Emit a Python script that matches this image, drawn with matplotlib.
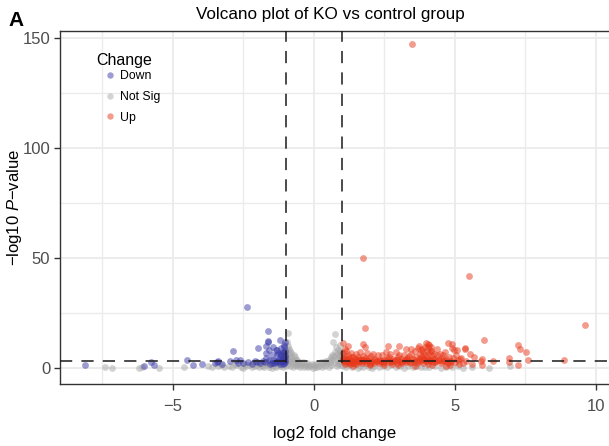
import matplotlib
matplotlib.use("Agg")
import matplotlib.pyplot as plt
from matplotlib.lines import Line2D
from matplotlib.ticker import MultipleLocator

plt.rcParams['font.family'] = ['Liberation Sans', 'DejaVu Sans']
plt.rcParams['mathtext.fontset'] = 'custom'
plt.rcParams['mathtext.rm'] = 'Liberation Sans'
plt.rcParams['mathtext.it'] = 'Liberation Sans:italic'

# ---------------- data ----------------
down_lfc = [-8.12, -6.03, -5.79, -5.66, -4.51, -4.28, -3.98, -3.45,
            -2.37, -1.62, -1.61, -1.21, -1.03, -1.98, -1.68, -1.59, -1.35, -1.15,
            -1.09, -1.30, -1.50, -2.88, -1.68, -2.77, -2.62, -2.98, -3.39, -3.51,
            -3.27, -2.09, -2.03, -1.44, -1.27, -1.09, -1.15, -1.03, -1.74, -2.51,
            -1.68, -1.44, -1.32, -1.11, -1.06, -1.15, -1.62,
            -1.90, -1.80, -1.55, -1.40, -1.20, -1.05, -1.10, -1.25, -1.35, -1.60,
            -2.20, -2.35, -2.70, -1.02, -1.08, -1.18, -1.03, -1.05, -1.28,
            -1.04, -1.12, -1.22, -1.38, -1.48, -1.04, -1.14]
down_logp = [1.4, 0.9, 2.9, 1.7, 3.6, 1.4, 1.8, 2.9,
             27.8, 16.8, 12.4, 12.7, 11.9, 9.2, 10.0, 8.2, 8.5, 9.4,
             6.9, 5.9, 5.9, 7.7, 4.7, 3.6, 3.9, 3.3, 3.2, 2.4,
             2.1, 3.3, 2.9, 3.6, 3.3, 3.3, 4.4, 5.1, 2.9, 2.4,
             6.9, 9.7, 8.2, 7.4, 9.7, 5.9, 12.0,
             2.2, 3.4, 2.0, 2.6, 2.1, 2.4, 1.8, 4.2, 3.0, 3.8,
             2.0, 2.7, 2.2, 3.8, 4.9, 6.4, 7.8, 10.5, 7.0,
             3.0, 3.5, 2.8, 3.1, 2.5, 6.0, 4.0]

ns_lfc = [-7.41, -7.17, -6.19, -6.10, -5.50, -4.61, -3.75,
          -3.60, -3.40, -3.20, -3.00, -2.90, -2.75, -2.60, -2.50, -2.40, -2.30,
          -2.20, -2.10, -2.00, -1.95, -1.90, -1.85, -1.80, -1.75, -1.70, -1.65,
          -1.60, -1.55, -1.50, -1.45, -1.40, -1.35, -1.30, -1.25, -1.20, -1.15,
          -1.10, -1.05, -1.00,
          -0.98, -0.96, -0.95, -0.93, -0.91, -0.92, -0.90, -0.88, -0.87, -0.86,
          -0.84, -0.82, -0.80, -0.78, -0.76, -0.74, -0.72, -0.70, -0.68, -0.66,
          -0.64, -0.62, -0.60, -0.58, -0.55, -0.52, -0.50, -0.47, -0.44, -0.40,
          -0.36, -0.32, -0.28, -0.24, -0.20, -0.16, -0.12, -0.08, -0.04, 0.00,
          0.04, 0.08, 0.12, 0.16, 0.20, 0.24, 0.28, 0.32, 0.36, 0.40,
          0.44, 0.48, 0.52, 0.55, 0.58, 0.60, 0.62, 0.64, 0.66, 0.68,
          0.70, 0.72, 0.74, 0.75, 0.77, 0.80, 0.81, 0.83, 0.85, 0.86,
          0.88, 0.90, 0.92, 0.94, 0.96, 0.98, 0.99,
          1.05, 1.15, 1.25, 1.35, 1.45, 1.55, 1.65, 1.75, 1.85, 1.95,
          2.05, 2.15, 2.30, 2.45, 2.60, 2.75, 2.90, 3.05, 3.20, 3.35,
          3.50, 3.65, 3.80, 3.95, 4.10, 4.30, 4.50, 4.70, 4.90, 5.10,
          5.30, 5.60, 6.22, 6.95,
          -3.3, -2.8, -2.45, -2.15, -1.88, -1.62, -1.38, -1.12,
          -0.99, -0.94, -0.89, -0.83, 0.85, 0.91, 0.95, 0.97]
ns_logp = [0.6, 0.3, 0.3, 0.4, 0.15, 0.6, 0.9,
           0.5, 0.9, 0.4, 1.1, 0.6, 1.4, 0.8, 0.3, 1.2, 1.7,
           0.6, 1.0, 1.5, 0.4, 2.0, 0.9, 1.3, 0.5, 1.8, 2.3,
           0.8, 1.5, 0.3, 2.1, 1.1, 0.6, 1.7, 2.6, 0.9, 1.4,
           0.4, 2.0, 1.2,
           3.3, 5.5, 7.8, 10.3, 16.2, 2.1, 4.4, 6.5, 8.9, 1.0,
           3.1, 5.6, 7.1, 2.3, 4.2, 0.6, 6.0, 3.3, 1.5, 5.0,
           2.6, 4.0, 0.9, 3.6, 1.9, 3.0, 0.5, 2.4, 1.3, 2.8,
           0.7, 2.0, 1.2, 2.4, 0.4, 1.6, 0.9, 2.0, 0.3, 1.4,
           0.7, 1.9, 0.5, 2.2, 1.0, 2.7, 0.4, 1.8, 3.0, 1.1,
           3.4, 2.2, 4.0, 0.8, 3.0, 5.0, 1.6, 4.3, 6.2, 11.9,
           2.5, 5.5, 15.7, 7.4, 3.6, 9.7, 1.2, 6.5, 4.6, 8.3,
           2.4, 5.8, 10.5, 3.5, 7.2, 1.6, 4.8,
           0.9, 0.4, 1.3, 0.7, 1.8, 0.3, 1.1, 0.6, 1.5, 0.8,
           0.2, 1.2, 0.6, 1.0, 0.4, 1.3, 0.7, 1.1, 0.3, 0.9,
           0.6, 1.0, 0.4, 0.8, 0.5, 1.0, 0.3, 0.7, 0.4, 0.9,
           0.3, 0.5, 0.0, 0.9,
           1.6, 2.0, 1.9, 2.3, 2.6, 2.8, 2.4, 2.9,
           9.0, 12.0, 3.8, 8.0, 2.0, 7.8, 3.9, 6.0]

up_lfc = [3.48, 1.74, 5.50, 9.63, 1.81, 6.03, 7.25, 7.30, 7.52, 1.04,
          1.75, 1.81, 2.63, 3.01, 3.26, 3.46, 4.05, 4.74, 4.90, 4.96,
          5.35, 5.53, 5.67, 5.95, 5.95, 6.36, 6.93, 6.93, 7.25, 7.60,
          8.87, 5.35, 5.18, 5.91, 5.59, 5.41, 4.82, 4.17, 4.09, 5.06,
          1.02, 1.05, 1.08, 1.10, 1.12, 1.15, 1.18, 1.20, 1.22, 1.25,
          1.28, 1.30, 1.33, 1.36, 1.38, 1.42, 1.45, 1.48, 1.50, 1.53,
          1.56, 1.60, 1.62, 1.65, 1.68, 1.72, 1.75, 1.78, 1.82, 1.85,
          1.88, 1.92, 1.95, 1.98, 2.02, 2.06, 2.10, 2.14, 2.18, 2.22,
          2.26, 2.30,
          2.34, 2.38, 2.42, 2.46, 2.50, 2.55, 2.58, 2.62, 2.66, 2.70,
          2.74, 2.78, 2.82, 2.86, 2.90, 2.94, 2.98, 3.02, 3.06, 3.10,
          3.14, 3.18, 3.22, 3.26, 3.30,
          3.34, 3.38, 3.42, 3.46, 3.50, 3.54, 3.58, 3.62, 3.66, 3.70,
          3.72, 3.75, 3.78, 3.80, 3.83, 3.86, 3.88, 3.90, 3.93, 3.95,
          3.98, 4.00, 4.02, 4.05, 4.08, 4.10, 4.13, 4.16, 4.19, 4.22,
          4.25, 4.28, 4.31, 4.35, 4.38, 4.42, 4.46, 4.50, 4.54, 4.58,
          4.62, 4.66, 4.70, 4.75, 4.80, 4.85, 4.90, 4.95, 5.00, 5.05,
          5.10, 5.15, 5.22, 5.28,
          1.40, 2.00, 2.50, 3.00, 3.60, 4.20, 4.70,
          1.03, 1.07, 1.13, 1.19, 1.24, 1.31, 1.37, 1.44, 1.52, 1.58,
          1.66, 1.71, 1.80, 1.90, 2.00, 2.12, 2.24, 2.36, 2.48, 2.60,
          2.72, 2.84, 2.96, 3.08, 3.20, 3.32, 3.44, 3.56, 3.68, 3.77,
          3.85, 3.92, 4.01, 4.12, 4.21, 4.33, 4.44, 4.56, 4.68, 4.82,
          3.74, 3.82, 3.97, 4.06, 4.15, 1.10, 1.20, 1.35]
up_logp = [147.3, 50.0, 41.8, 19.5, 18.3, 13.0, 10.8, 8.6, 7.4, 11.5,
           11.2, 9.7, 10.1, 10.0, 8.9, 8.6, 10.9, 11.5, 11.2, 8.2,
           8.6, 6.4, 5.1, 4.1, 1.4, 3.3, 4.9, 2.9, 1.4, 3.6,
           3.6, 9.4, 4.4, 3.2, 1.8, 3.2, 1.4, 9.7, 10.7, 8.2,
           4.5, 6.8, 3.2, 2.1, 5.6, 8.0, 3.9, 2.6, 6.2, 4.8,
           1.8, 3.4, 7.1, 2.3, 5.2, 3.0, 4.1, 6.5, 2.0, 3.6,
           5.0, 2.7, 7.6, 4.4, 3.1, 2.2, 5.8, 3.8, 4.9, 2.5,
           6.9, 3.3, 4.6, 2.1, 5.4, 3.0, 6.7, 2.6, 4.2, 3.5,
           5.9, 2.3,
           4.0, 3.1, 5.9, 2.4, 3.7, 7.2, 4.6, 2.8, 5.2, 6.7,
           3.3, 2.1, 4.4, 3.6, 7.4, 2.6, 5.0, 5.9, 3.2, 4.3,
           2.4, 6.1, 3.7, 2.9, 4.8,
           3.4, 5.6, 2.2, 6.7, 4.1, 3.0, 7.9, 5.0, 2.6, 9.2,
           4.4, 6.3, 3.3, 8.4, 5.4, 2.4, 7.2, 4.0, 9.8, 6.0,
           3.1, 8.0, 5.1, 2.0, 6.9, 4.3, 3.4, 7.7, 5.6, 2.7,
           6.4, 4.1, 3.0, 5.9, 8.6, 3.8, 6.6, 2.5, 4.7, 5.9,
           3.1, 7.6, 4.2, 2.3, 5.3, 3.4, 9.4, 4.6, 2.7, 6.0,
           3.6, 2.0, 4.9, 2.6,
           1.2, 1.4, 1.3, 1.5, 1.2, 1.3, 1.1,
           3.6, 2.9, 4.3, 3.3, 2.8, 3.9, 3.2, 2.6, 3.9, 3.1,
           3.7, 4.0, 3.2, 3.8, 2.9, 3.6, 3.1, 3.5, 2.9, 3.7,
           3.0, 3.4, 3.9, 2.7, 3.5, 4.1, 3.0, 3.8, 3.4, 4.6,
           3.7, 4.8, 3.3, 3.8, 4.4, 3.2, 3.9, 3.5, 3.2, 3.0,
           10.2, 9.0, 11.3, 9.5, 8.0, 9.0, 10.0, 5.0]

groups = ["Down", "Not Sig", "Up"]
colors = {"Down": "#3A3AA8", "Not Sig": "#A8A8A8", "Up": "#E8381A"}
lfc_cut = 1.0
p_cut = 3.4
title = "Volcano plot of KO vs control group"

# ---------------- figure ----------------
W, H = 609, 446
fig = plt.figure(figsize=(W / 100, H / 100), dpi=100)
L, R, T, B = 60, 610, 31, 383.5
ax = fig.add_axes([L / W, 1 - B / H, (R - L) / W, (B - T) / H])

ax.set_xlim(-9.0, 10.50)
ax.set_ylim(-6.9, 153.3)

ax.xaxis.set_major_locator(MultipleLocator(5))
ax.xaxis.set_minor_locator(MultipleLocator(2.5))
ax.yaxis.set_major_locator(MultipleLocator(50))
ax.yaxis.set_minor_locator(MultipleLocator(25))
ax.grid(which='major', color='#EBEBEB', linewidth=1.3)
ax.grid(which='minor', color='#EBEBEB', linewidth=1.0)
ax.set_axisbelow(True)
ax.tick_params(which='minor', length=0)
ax.tick_params(which='major', length=4, width=1.0, color='#333333',
               labelcolor='#4D4D4D', labelsize=12)
ax.tick_params(axis='x', pad=7)
ax.tick_params(axis='y', pad=3)
for s in ax.spines.values():
    s.set_color('#333333')
    s.set_linewidth(1.0)

PS = 24
ax.scatter(ns_lfc, ns_logp, s=PS, color=colors["Not Sig"], alpha=0.5, linewidths=0, zorder=2)
ax.scatter(down_lfc, down_logp, s=PS, color=colors["Down"], alpha=0.5, linewidths=0, zorder=3)
ax.scatter(up_lfc, up_logp, s=PS, color=colors["Up"], alpha=0.5, linewidths=0, zorder=3)

dash = (0, (8, 6))
ax.axvline(-lfc_cut, color='#1a1a1a', lw=1.1, ls=dash, zorder=4)
ax.axvline(lfc_cut, color='#1a1a1a', lw=1.1, ls=dash, zorder=4)
ax.axhline(p_cut, color='#1a1a1a', lw=1.1, ls=dash, zorder=4)

ax.set_xlabel("log2 fold change", fontsize=12, labelpad=9)
ax.set_ylabel(r"$-$log10 $\mathit{P}$$-$value", fontsize=12, va='center')
ax.yaxis.set_label_coords((15 - L) / (R - L), 0.5)

handles = [Line2D([], [], ls='none', marker='o', markersize=4.6,
                  markerfacecolor=colors[g], markeredgewidth=0, alpha=0.5)
           for g in groups]
leg = ax.legend(handles, groups, loc='upper left',
                bbox_to_anchor=(96 / W, 1 - 70 / H), bbox_transform=fig.transFigure,
                frameon=False, fontsize=8.8,
                handlelength=2.3, handletextpad=-0.35, labelspacing=0.72,
                borderaxespad=0, borderpad=0)
fig.text(96 / W, 1 - 60 / H, "Change", ha='left', va='center', fontsize=11.5)

fig.text(330 / W, 1 - 14 / H, title, ha='center', va='center', fontsize=12.3)
fig.text(8 / W, 1 - 20 / H, "A", ha='left', va='center', fontsize=15, fontweight='bold')

fig.savefig("out.png", dpi=100)
